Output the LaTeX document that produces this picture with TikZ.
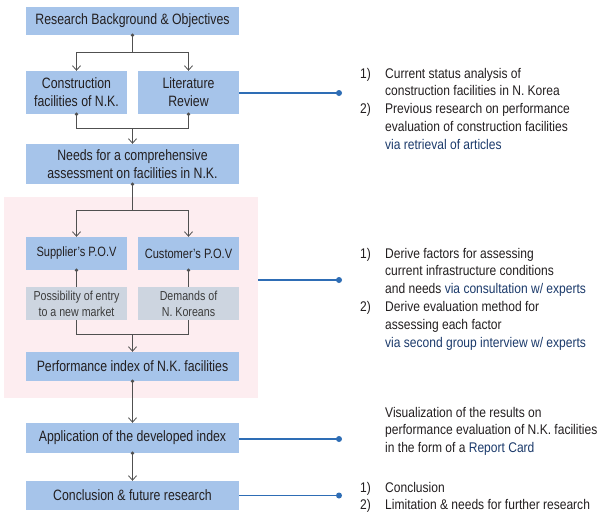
\documentclass[tikz,border=0pt]{standalone}
\usepackage{fontspec}
\setmainfont{Liberation Sans}[FakeStretch=0.86]
\newfontfamily\boxfont{Liberation Sans}[FakeStretch=0.82]
\usetikzlibrary{arrows.meta,calc}
\definecolor{boxblue}{HTML}{A6C4EA}
\definecolor{boxgrey}{HTML}{CDD5E0}
\definecolor{pinkbg}{HTML}{FDEDF0}
\definecolor{linegray}{HTML}{505050}
\definecolor{connblue}{HTML}{2E6DB5}
\definecolor{textdark}{HTML}{231F20}
\definecolor{textgrey}{HTML}{3C3C3C}
\definecolor{navy}{HTML}{1B3A6B}
\tikzset{
  bluebox/.style={fill=boxblue, inner sep=0pt, align=center, text=textdark, font=\boxfont\fontsize{15}{18}\selectfont},
  widebox/.style={bluebox, minimum width=213pt},
  halfbox/.style={bluebox, minimum width=101pt},
  smallbox/.style={halfbox, font=\boxfont\fontsize{13.5}{16}\selectfont},
  greybox/.style={fill=boxgrey, inner sep=0pt, align=center, minimum width=101pt, minimum height=33pt, text=textgrey, font=\boxfont\fontsize{13}{16}\selectfont},
  arr/.style={draw=linegray, line width=0.8pt, -{Straight Barb[length=4.5pt,width=8pt]}},
  plainline/.style={draw=linegray, line width=0.8pt},
  blueconn/.style={draw=connblue, line width=1.6pt},
  sidetext/.style={anchor=base west, inner sep=0pt, text=textdark, align=left, font=\fontsize{14}{17.8}\selectfont},
}
\newcommand{\num}[1]{\makebox[25pt][l]{#1}}
\begin{document}
\begin{tikzpicture}[x=1pt,y=-1pt]
\useasboundingbox[fill=white] (0,0) rectangle (600,515);
% pink background area
\node[fill=pinkbg, minimum width=254pt, minimum height=201pt, inner sep=0pt] (pinkarea) at (131,297.5) {};
% boxes
\node[widebox, minimum height=28pt] (rb) at (132.5,21) {Research Background \& Objectives};
\node[halfbox, minimum height=43pt] (cf) at (76.5,92.5) {Construction\\facilities of N.K.};
\node[halfbox, minimum height=43pt] (lr) at (188.5,92.5) {Literature\\Review};
\node[widebox, minimum height=40pt] (nd) at (132.5,164) {Needs for a comprehensive\\assessment on facilities in N.K.};
\node[smallbox, minimum height=33pt] (sp) at (76.5,253.5) {Supplier’s P.O.V};
\node[smallbox, minimum height=33pt] (cp) at (188.5,253.5) {Customer’s P.O.V};
\node[greybox] (pe) at (76.5,303.5) {Possibility of entry\\to a new market};
\node[greybox] (dm) at (188.5,303.5) {Demands of\\N. Koreans};
\node[widebox, minimum height=29pt] (pi) at (132.5,366.5) {Performance index of N.K. facilities};
\node[widebox, minimum height=30pt] (ap) at (132.5,438) {Application of the developed index};
\node[widebox, minimum height=29pt] (cc) at (132.5,495.5) {Conclusion \& future research};
% junctions
\coordinate (j1) at (132.5,52);
\coordinate (j2) at (132.5,128);
\coordinate (j3) at (132.5,210);
\coordinate (j4) at (132.5,334);
% gray connectors
\draw[plainline] (rb.south) -- (j1);
\draw[arr] (j1) -| (cf.north);
\draw[arr] (j1) -| (lr.north);
\draw[plainline] (cf.south) |- (j2);
\draw[plainline] (lr.south) |- (j2);
\draw[arr] (j2) -- (nd.north);
\draw[plainline] (nd.south) -- (j3);
\draw[arr] (j3) -| (sp.north);
\draw[arr] (j3) -| (cp.north);
\draw[plainline] (sp.south) -- (pe.north);
\draw[plainline] (cp.south) -- (dm.north);
\draw[plainline] (pe.south) |- (j4);
\draw[plainline] (dm.south) |- (j4);
\draw[arr] (j4) -- (pi.north);
\draw[arr] (pi.south) -- (ap.north);
\draw[arr] (ap.south) -- (cc.north);
% dots on box bottoms
\foreach \n in {rb,cf,lr,nd,sp,cp,pi,ap} \fill[linegray] (\n.south) circle (1.9pt);
% blue connectors
\coordinate (d1) at (339,93);
\coordinate (d2) at (339,280);
\coordinate (d3) at (339,439);
\coordinate (d4) at (339,495.5);
\draw[blueconn] (lr.east |- d1) -- (d1);
\draw[blueconn] (pinkarea.east |- d2) -- (d2);
\draw[blueconn] (ap.east |- d3) -- (d3);
\draw[blueconn] (cc.east |- d4) -- (d4);
\foreach \d in {d1,d2,d3,d4} \fill[connblue] (\d) circle (3pt);
% side texts
\node[sidetext] (s1) at (360,78) {\begin{tabular}[t]{@{}l@{}l@{}}
\num{1)} & Current status analysis of\\
 & construction facilities in N. Korea\\
\num{2)} & Previous research on performance\\
 & evaluation of construction facilities\\
 & \textcolor{navy}{via retrieval of articles}
\end{tabular}};
\node[sidetext] (s2) at (360,258) {\begin{tabular}[t]{@{}l@{}l@{}}
\num{1)} & Derive factors for assessing\\
 & current infrastructure conditions\\
 & and needs \textcolor{navy}{via consultation w/ experts}\\
\num{2)} & Derive evaluation method for\\
 & assessing each factor\\
 & \textcolor{navy}{via second group interview w/ experts}
\end{tabular}};
\node[sidetext] (s3) at (385,417) {\begin{tabular}[t]{@{}l@{}}
Visualization of the results on\\
performance evaluation of N.K. facilities\\
in the form of a \textcolor{navy}{Report Card}
\end{tabular}};
\node[sidetext] (s4) at (360,492) {\begin{tabular}[t]{@{}l@{}l@{}}
\num{1)} & Conclusion\\
\num{2)} & Limitation \& needs for further research
\end{tabular}};
\end{tikzpicture}
\end{document}
